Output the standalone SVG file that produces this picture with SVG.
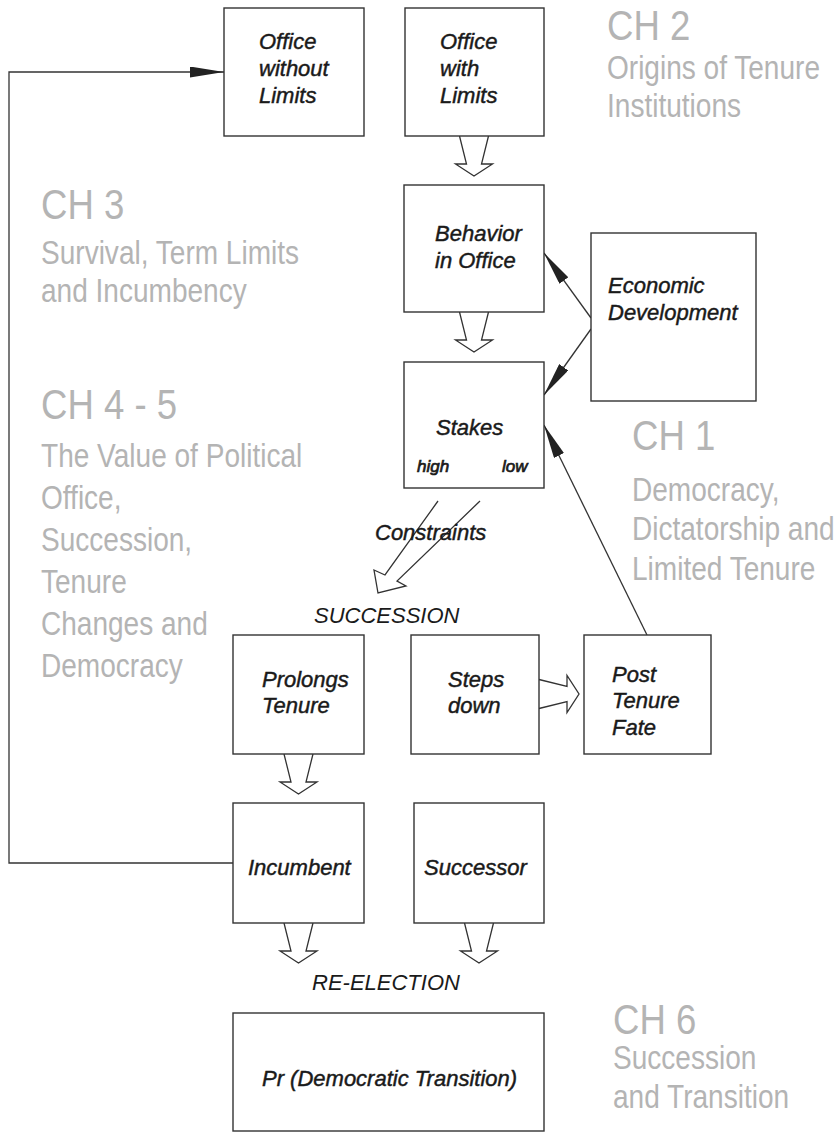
<svg xmlns="http://www.w3.org/2000/svg" width="836" height="1134" viewBox="0 0 836 1134">
<style>
.box{fill:#fff;stroke:#333;stroke-width:1.4}
.lbl{font-family:"Liberation Sans",Arial,sans-serif;font-style:italic;font-size:22px;fill:#1a1a1a;stroke:#1a1a1a;stroke-width:0.45}
.plain{stroke:none}
.sm{font-size:17px;stroke-width:0.7}
.ch{font-family:"Liberation Sans",Arial,sans-serif;font-size:43px;fill:#b4b4b4}
.chb{font-family:"Liberation Sans",Arial,sans-serif;font-size:33px;fill:#b4b4b4}
.ln{fill:none;stroke:#333;stroke-width:1.3}
.blk{fill:#fff;stroke:#333;stroke-width:1.3;stroke-linejoin:miter}
</style>
<defs>
<marker id="ah" markerUnits="userSpaceOnUse" markerWidth="34" markerHeight="11" refX="34" refY="5.5" orient="auto">
<path d="M0,0 L34,5.5 L0,11 z" fill="#222"/>
</marker>
<path id="down" d="M-14.5,0 L-7.5,28 L-18.5,28 L0,40 L18.5,28 L7.5,28 L14.5,0"/>
</defs>
<rect width="836" height="1134" fill="#fff"/>

<g id="chapters">
<text class="ch" transform="translate(607,40) scale(0.85,1)">CH 2</text>
<text class="chb" transform="translate(607,79) scale(0.85,1)">Origins of Tenure</text>
<text class="chb" transform="translate(607,117) scale(0.85,1)">Institutions</text>
<text class="ch" transform="translate(41,219) scale(0.85,1)">CH 3</text>
<text class="chb" transform="translate(41,264) scale(0.85,1)">Survival, Term Limits</text>
<text class="chb" transform="translate(41,302) scale(0.85,1)">and Incumbency</text>
<text class="ch" transform="translate(41,419) scale(0.85,1)">CH 4 - 5</text>
<text class="chb" transform="translate(41,467) scale(0.85,1)">The Value of Political</text>
<text class="chb" transform="translate(41,509) scale(0.85,1)">Office,</text>
<text class="chb" transform="translate(41,551) scale(0.85,1)">Succession,</text>
<text class="chb" transform="translate(41,593) scale(0.85,1)">Tenure</text>
<text class="chb" transform="translate(41,635) scale(0.85,1)">Changes and</text>
<text class="chb" transform="translate(41,677) scale(0.85,1)">Democracy</text>
<text class="ch" transform="translate(632,450) scale(0.85,1)">CH 1</text>
<text class="chb" transform="translate(632,501) scale(0.85,1)">Democracy,</text>
<text class="chb" transform="translate(632,540) scale(0.85,1)">Dictatorship and</text>
<text class="chb" transform="translate(632,580) scale(0.85,1)">Limited Tenure</text>
<text class="ch" transform="translate(613,1034) scale(0.85,1)">CH 6</text>
<text class="chb" transform="translate(613,1069) scale(0.85,1)">Succession</text>
<text class="chb" transform="translate(613,1108) scale(0.85,1)">and Transition</text>
</g>

<g id="connectors">
<polyline class="ln" points="233,863 9,863 9,72 224,72" marker-end="url(#ah)"/>
<line class="ln" x1="591" y1="318" x2="544" y2="253" marker-end="url(#ah)"/>
<line class="ln" x1="591" y1="329" x2="544" y2="395" marker-end="url(#ah)"/>
<line class="ln" x1="647" y1="635" x2="544" y2="425" marker-end="url(#ah)"/>
<use href="#down" class="blk" transform="translate(474,136)"/>
<use href="#down" class="blk" transform="translate(474,312)"/>
<use href="#down" class="blk" transform="translate(298.5,754)"/>
<use href="#down" class="blk" transform="translate(298.5,923)"/>
<use href="#down" class="blk" transform="translate(479,923)"/>
<use href="#down" class="blk" transform="translate(539,694) rotate(-90)"/>
<path class="blk" d="M438,501 L385,575 L374,570 L378,593 L406,586 L397,581 L480,501"/>
</g>

<g id="n-office-without">
<rect class="box" x="224" y="8" width="140" height="128"/>
<text class="lbl" x="259" y="49">Office</text>
<text class="lbl" x="259" y="76">without</text>
<text class="lbl" x="259" y="103">Limits</text>
</g>
<g id="n-office-with">
<rect class="box" x="405" y="8" width="139" height="128"/>
<text class="lbl" x="440" y="49">Office</text>
<text class="lbl" x="440" y="76">with</text>
<text class="lbl" x="440" y="103">Limits</text>
</g>
<g id="n-behavior">
<rect class="box" x="404" y="185" width="140" height="127"/>
<text class="lbl" x="435" y="241">Behavior</text>
<text class="lbl" x="435" y="268">in Office</text>
</g>
<g id="n-economic">
<rect class="box" x="591" y="233" width="165" height="168"/>
<text class="lbl" x="608" y="293">Economic</text>
<text class="lbl" x="608" y="320">Development</text>
</g>
<g id="n-stakes">
<rect class="box" x="404" y="362" width="140" height="126"/>
<text class="lbl" x="436" y="435">Stakes</text>
<text class="lbl sm" x="417" y="472">high</text>
<text class="lbl sm" x="502" y="472">low</text>
</g>
<g id="l-constraints">
<text class="lbl" x="375" y="540">Constraints</text>
</g>
<g id="l-succession">
<text class="lbl plain" x="314" y="623">SUCCESSION</text>
</g>
<g id="n-prolongs">
<rect class="box" x="233" y="635" width="131" height="119"/>
<text class="lbl" x="262" y="687">Prolongs</text>
<text class="lbl" x="262" y="713">Tenure</text>
</g>
<g id="n-steps">
<rect class="box" x="411" y="635" width="128" height="119"/>
<text class="lbl" x="448" y="687">Steps</text>
<text class="lbl" x="448" y="713">down</text>
</g>
<g id="n-post">
<rect class="box" x="584" y="635" width="127" height="119"/>
<text class="lbl" x="612" y="682">Post</text>
<text class="lbl" x="612" y="708">Tenure</text>
<text class="lbl" x="612" y="735">Fate</text>
</g>
<g id="n-incumbent">
<rect class="box" x="233" y="803" width="131" height="120"/>
<text class="lbl" x="248" y="875">Incumbent</text>
</g>
<g id="n-successor">
<rect class="box" x="414" y="803" width="130" height="120"/>
<text class="lbl" x="424" y="875">Successor</text>
</g>
<g id="l-reelection">
<text class="lbl plain" x="312" y="990">RE-ELECTION</text>
</g>
<g id="n-pr">
<rect class="box" x="233" y="1013" width="311" height="118"/>
<text class="lbl" x="262" y="1086">Pr (Democratic Transition)</text>
</g>
</svg>
